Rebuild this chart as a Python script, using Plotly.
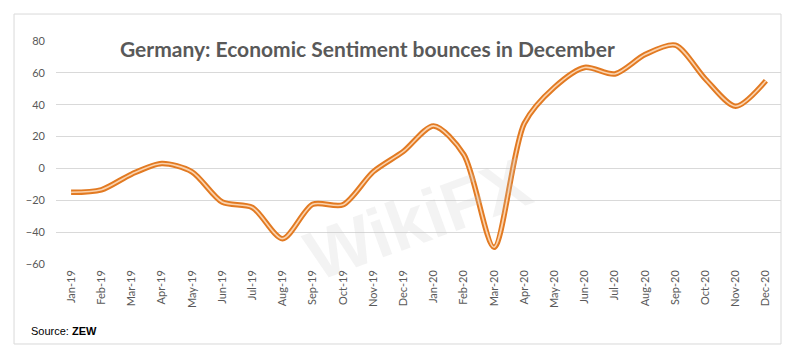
import plotly.graph_objects as go

months = ["Jan-19", "Feb-19", "Mar-19", "Apr-19", "May-19", "Jun-19", "Jul-19", "Aug-19",
          "Sep-19", "Oct-19", "Nov-19", "Dec-19", "Jan-20", "Feb-20", "Mar-20", "Apr-20",
          "May-20", "Jun-20", "Jul-20", "Aug-20", "Sep-20", "Oct-20", "Nov-20", "Dec-20"]
sentiment = [-15.0, -13.4, -3.6, 3.1, -2.1, -21.1, -24.5, -44.1, -22.5, -22.8, -2.1, 10.7,
             26.7, 8.7, -49.5, 28.2, 51.0, 63.4, 59.3, 71.5, 77.4, 56.1, 39.0, 55.0]
y_ticks = [-60, -40, -20, 0, 20, 40, 60, 80]

FONT = "Lato"
GRAY = "#595959"

fig = go.Figure()
fig.add_trace(go.Scatter(x=months, y=sentiment, mode="lines",
                         line=dict(color="#E27A22", width=5.5, shape="spline", smoothing=0.8),
                         hoverinfo="skip", showlegend=False))
fig.add_trace(go.Scatter(x=months, y=sentiment, mode="lines",
                         line=dict(color="#FBD3AE", width=1.6, shape="spline", smoothing=0.8),
                         showlegend=False))

# the page body has an 8px margin; size the figure so it fits the 799x359 window
fig.update_layout(
    width=791, height=351,
    margin=dict(l=48, r=18, t=33, b=95),
    paper_bgcolor="white", plot_bgcolor="white",
    font=dict(family=FONT, color=GRAY, size=11),
    xaxis=dict(type="category", range=[-0.5, 23.5], tickangle=-90, showgrid=False,
               showline=False, ticks="", ticklabelstandoff=3,
               tickfont=dict(size=11, color=GRAY, family=FONT)),
    yaxis=dict(range=[-60, 80], tickvals=y_ticks, showgrid=True, gridcolor="#D9D9D9",
               gridwidth=1, zeroline=False, showline=False, ticks="", ticklabelstandoff=10,
               tickfont=dict(size=11, color=GRAY, family=FONT)),
    shapes=[dict(type="rect", xref="paper", yref="paper", x0=-0.0579, x1=1.0,
                 y0=-0.3587, y1=1.121, line=dict(color="#D9D9D9", width=1),
                 fillcolor="rgba(0,0,0,0)", layer="below")],
    annotations=[
        dict(text="<b>Germany: Economic Sentiment bounces in December</b>",
             xref="paper", yref="paper", x=0.43, y=1.036, showarrow=False,
             font=dict(family=FONT, size=21, color=GRAY), bgcolor="white", borderpad=2),
        dict(text="Source: <b>ZEW</b>", xref="paper", yref="paper", x=-0.037, y=-0.30,
             xanchor="left", yanchor="middle", showarrow=False,
             font=dict(family="Liberation Sans", size=11, color="black")),
        dict(text="<b>WikiFX</b>", xref="paper", yref="paper", x=0.5, y=0.2,
             xanchor="center", yanchor="middle",
             showarrow=False, textangle=-20,
             font=dict(family="Liberation Sans", size=70, color="rgba(200,200,200,0.22)")),
    ],
)

fig.write_html("out.html")
